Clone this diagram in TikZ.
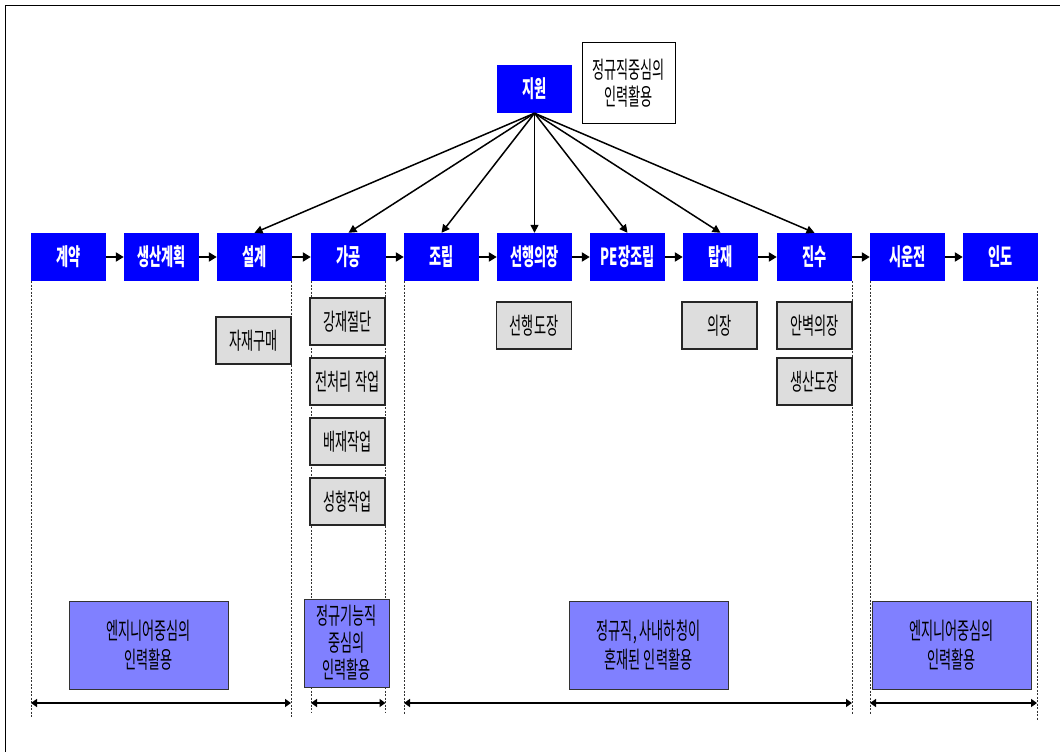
\documentclass[tikz,border=0pt]{standalone}
\usepackage{fontspec}
\newfontfamily\kr[FakeStretch=0.56]{Noto Sans CJK KR}
\usetikzlibrary{arrows.meta}
\definecolor{procblue}{HTML}{0000FF}
\definecolor{subgray}{HTML}{DDDDDD}
\definecolor{hrpurple}{HTML}{8080FF}
\tikzset{
 proc/.style={fill=procblue, text=white, minimum width=75pt, minimum height=48pt, inner sep=0pt, font=\kr\bfseries\fontsize{23.5}{28}\selectfont},
 sub/.style={draw=black!85, line width=1.2pt, fill=subgray, minimum width=75pt, minimum height=47pt, inner sep=0pt, font=\kr\fontsize{23.5}{28}\selectfont},
 hr/.style={draw=black!80, line width=1pt, fill=hrpurple, align=center, inner sep=0pt, font=\kr\fontsize{23.5}{29}\selectfont},
 note/.style={draw=black, line width=1pt, fill=white, align=center, inner sep=0pt, minimum width=93pt, minimum height=80pt, font=\kr\fontsize{23.5}{27}\selectfont},
 flow/.style={line width=2pt, -{Triangle[length=8pt,width=9pt]}},
 spoke/.style={line width=1.5pt, -{Triangle[length=8pt,width=8pt]}},
 span/.style={line width=1.5pt, {Triangle[length=6pt,width=8pt]}-{Triangle[length=6pt,width=8pt]}},
 guide/.style={line width=0.8pt, black!80, dash pattern=on 2pt off 1.5pt},
}
\begin{document}
\begin{tikzpicture}[x=1pt,y=-1pt]
\useasboundingbox (0,0) rectangle (1060,752);
\draw[line width=1.2pt] (5.5,752) -- (5.5,5.5) -- (1060,5.5);

% process row
\node[proc] (gyeyak)   at (68.5,257)  {계약};
\node[proc] (saengsan) at (161.5,257) {생산계획};
\node[proc] (seolgye)  at (254.5,257) {설계};
\node[proc] (gagong)   at (348.5,257) {가공};
\node[proc] (jorip)    at (441.5,257) {조립};
\node[proc] (seonhaeng) at (534.5,257) {선행의장};
\node[proc] (pe)       at (627.5,257) {PE장조립};
\node[proc] (tapjae)   at (720.5,257) {탑재};
\node[proc] (jinsu)    at (814.5,257) {진수};
\node[proc] (siun)     at (907.5,257) {시운전};
\node[proc] (indo)     at (1000.5,257) {인도};

\node[proc] (jiwon) at (534.5,89) {지원};
\node[note] (jiwonnote) at (628.5,83) {정규직중심의\\인력활용};

% flow arrows
\draw[flow] (gyeyak) -- (saengsan);
\draw[flow] (saengsan) -- (seolgye);
\draw[flow] (seolgye) -- (gagong);
\draw[flow] (gagong) -- (jorip);
\draw[flow] (jorip) -- (seonhaeng);
\draw[flow] (seonhaeng) -- (pe);
\draw[flow] (pe) -- (tapjae);
\draw[flow] (tapjae) -- (jinsu);
\draw[flow] (jinsu) -- (siun);
\draw[flow] (siun) -- (indo);

% support spokes
\foreach \t in {seolgye,gagong,jorip,seonhaeng,pe,tapjae,jinsu}
  \draw[spoke] (jiwon.south) -- (\t.north);

% guides
\draw[guide] (31,281) -- (31,717);
\draw[guide] (291,281) -- (291,717);
\draw[guide] (311,281) -- (311,712);
\draw[guide] (385.5,281) -- (385.5,712);
\draw[guide] (404,281) -- (404,715);
\draw[guide] (852,281) -- (852,714);
\draw[guide] (870,281) -- (870,714);
\draw[guide] (1037,287) -- (1037,720);

% sub tasks
\node[sub] (jajae)  at (253.5,340.5) {자재구매};
\node[sub] (gangjae) at (347.5,321.5) {강재절단};
\node[sub] (jeoncheori) at (347.5,381.5) {전처리 작업};
\node[sub] (baejae) at (347.5,441.5) {배재작업};
\node[sub] (seonghyeong) at (347.5,501.5) {성형작업};
\node[sub] (seondojang) at (534,325.5) {선행도장};
\node[sub] (uijang) at (719.5,325.5) {의장};
\node[sub] (anbyeok) at (814.5,325.5) {안벽의장};
\node[sub] (saengdojang) at (814.5,381.5) {생산도장};

% HR boxes
\node[hr, minimum width=159pt, minimum height=88pt] (hr1) at (148.5,645) {엔지니어중심의\\인력활용};
\node[hr, minimum width=85pt, minimum height=88pt, font=\kr\fontsize{23.5}{27}\selectfont] (hr2) at (346.5,643) {정규기능직\\중심의\\인력활용};
\node[hr, minimum width=159pt, minimum height=88pt] (hr3) at (648.5,645) {정규직, 사내하청이\\혼재된 인력활용};
\node[hr, minimum width=159pt, minimum height=88pt] (hr4) at (951.5,645) {엔지니어중심의\\인력활용};

% spans
\coordinate (s1a) at (31,703);
\coordinate (s1b) at (291,703);
\coordinate (s2a) at (311,703);
\coordinate (s2b) at (385.5,703);
\coordinate (s3a) at (404,703);
\coordinate (s3b) at (852,703);
\coordinate (s4a) at (870,703);
\coordinate (s4b) at (1037,703);
\draw[span] (s1a) -- (s1b);
\draw[span] (s2a) -- (s2b);
\draw[span] (s3a) -- (s3b);
\draw[span] (s4a) -- (s4b);
\end{tikzpicture}
\end{document}
